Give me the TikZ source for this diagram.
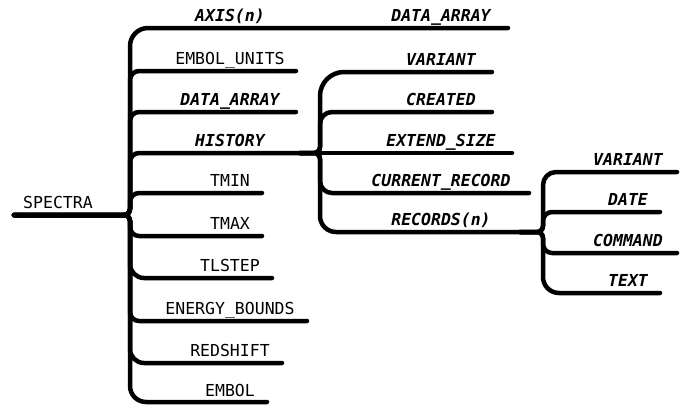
\documentclass[tikz,border=0pt]{standalone}
\usepackage{fontspec}
\setmonofont{DejaVu Sans Mono}
\begin{document}
\begin{tikzpicture}[x=1pt,y=-1pt,
  wire/.style={line width=4.5pt, line cap=round, line join=round},
  lab/.style={font=\fontsize{16.5}{16.5}\selectfont\ttfamily, anchor=base, inner sep=0pt},
  blab/.style={font=\fontsize{16.5}{16.5}\selectfont\ttfamily\bfseries\itshape, anchor=base, inner sep=0pt}]
\useasboundingbox (0,0) rectangle (683,405);
% main tree
\coordinate (S) at (14,215);
\coordinate (J) at (130,215);
\coordinate (eAxis) at (508,28);
\coordinate (eUnits) at (296,71);
\coordinate (eData) at (296,112);
\coordinate (H) at (300,153);
\coordinate (eTmin) at (262,193);
\coordinate (eTmax) at (262,236);
\coordinate (eTl) at (272,278);
\coordinate (eEn) at (307,321);
\coordinate (eRed) at (282,363);
\coordinate (eEmb) at (267,402);
% history subtree
\coordinate (J2) at (320,153);
\coordinate (eVar) at (492,72);
\coordinate (eCre) at (492,112);
\coordinate (eExt) at (512,153);
\coordinate (eCur) at (529,193);
\coordinate (R) at (520,232);
% records subtree
\coordinate (J3) at (543,232);
\coordinate (eVar2) at (677,172);
\coordinate (eDate) at (660,212);
\coordinate (eCom) at (677,253);
\coordinate (eText) at (660,293);

\draw[wire,rounded corners=6pt] (S) -- (J) [rounded corners=18pt] |- (eAxis);
\draw[wire,rounded corners=6pt] (S) -- (J) [rounded corners=9pt] |- (eUnits);
\draw[wire,rounded corners=6pt] (S) -- (J) [rounded corners=9pt] |- (eData);
\draw[wire,rounded corners=6pt] (S) -- (J) [rounded corners=9pt] |- (H);
\draw[wire,rounded corners=6pt] (S) -- (J) [rounded corners=9pt] |- (eTmin);
\draw[wire,rounded corners=6pt] (S) -- (J) [rounded corners=9pt] |- (eTmax);
\draw[wire,rounded corners=6pt] (S) -- (J) [rounded corners=14pt] |- (eTl);
\draw[wire,rounded corners=6pt] (S) -- (J) [rounded corners=9pt] |- (eEn);
\draw[wire,rounded corners=6pt] (S) -- (J) [rounded corners=14pt] |- (eRed);
\draw[wire,rounded corners=6pt] (S) -- (J) [rounded corners=16pt] |- (eEmb);

\draw[wire,rounded corners=6pt] (H) -- (J2) [rounded corners=24pt] |- (eVar);
\draw[wire,rounded corners=6pt] (H) -- (J2) [rounded corners=12pt] |- (eCre);
\draw[wire] (H) -- (eExt);
\draw[wire,rounded corners=6pt] (H) -- (J2) [rounded corners=12pt] |- (eCur);
\draw[wire,rounded corners=6pt] (H) -- (J2) [rounded corners=16pt] |- (R);

\draw[wire,rounded corners=6pt] (R) -- (J3) [rounded corners=13pt] |- (eVar2);
\draw[wire,rounded corners=6pt] (R) -- (J3) [rounded corners=9pt] |- (eDate);
\draw[wire,rounded corners=6pt] (R) -- (J3) [rounded corners=9pt] |- (eCom);
\draw[wire,rounded corners=6pt] (R) -- (J3) [rounded corners=16pt] |- (eText);

% labels
\node[lab] (tSpec) at (58,208) {SPECTRA};
\node[blab] (tAxis) at (230,21.5) {AXIS(n)};
\node[blab] (tAxD) at (441,21.5) {DATA\_ARRAY};
\node[lab] (tUnits) at (230,64.5) {EMBOL\_UNITS};
\node[blab] (tData) at (230,105.5) {DATA\_ARRAY};
\node[blab] (tHist) at (230,146.5) {HISTORY};
\node[lab] (tTmin) at (230,186.5) {TMIN};
\node[lab] (tTmax) at (230,229.5) {TMAX};
\node[lab] (tTl) at (230,271.5) {TLSTEP};
\node[lab] (tEn) at (230,314.5) {ENERGY\_BOUNDS};
\node[lab] (tRed) at (230,356.5) {REDSHIFT};
\node[lab] (tEmb) at (230,396) {EMBOL};
\node[blab] (tVar) at (441,65.5) {VARIANT};
\node[blab] (tCre) at (441,105.5) {CREATED};
\node[blab] (tExt) at (441,146.5) {EXTEND\_SIZE};
\node[blab] (tCur) at (441,186.5) {CURRENT\_RECORD};
\node[blab] (tRec) at (441,225.5) {RECORDS(n)};
\node[blab] (tVar2) at (628,165.5) {VARIANT};
\node[blab] (tDate) at (628,205.5) {DATE};
\node[blab] (tCom) at (628,246.5) {COMMAND};
\node[blab] (tText) at (628,286.5) {TEXT};
\end{tikzpicture}
\end{document}
